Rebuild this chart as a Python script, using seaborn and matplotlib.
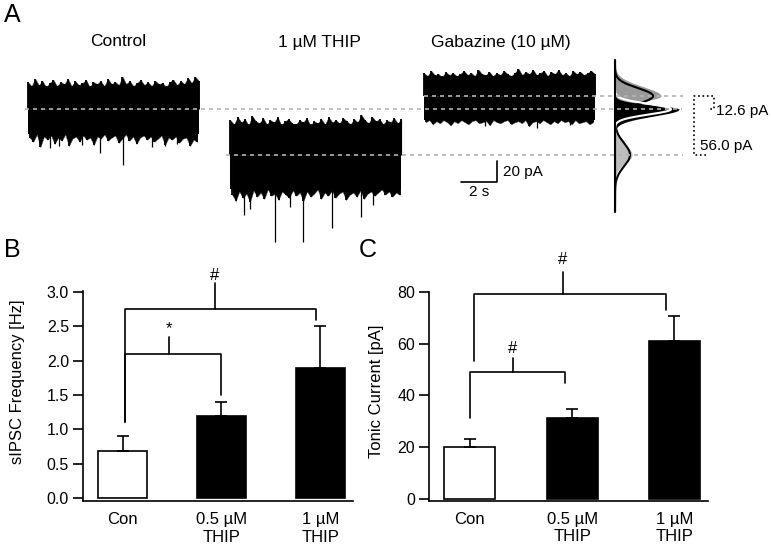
import numpy as np
import pandas as pd
import matplotlib
matplotlib.use("Agg")
import matplotlib.pyplot as plt
import seaborn as sns

# ---- données ----
categories = ["Con", "0.5 µM\nTHIP", "1 µM\nTHIP"]
freq_mean = [0.69, 1.19, 1.89]
freq_sem = [0.21, 0.21, 0.61]
tonic_mean = [20.0, 31.3, 61.0]
tonic_sem = [3.2, 3.4, 9.7]
bar_colors = ["white", "black", "black"]

# comparaisons : (x gauche, x droite, hauteur, bas jambe gauche, bas jambe droite, x repère, haut repère, symbole, y symbole)
freq_brackets = [
    (0.02, 1.96, 2.76, 1.10, 2.59, 0.93, 3.13, "#", 3.24),
    (0.02, 1.00, 2.10, 1.10, 1.50, 0.47, 2.34, "*", 2.47),
]
tonic_brackets = [
    (0.04, 1.92, 79.2, 53.3, 73.0, 0.91, 87.7, "#", 92.5),
    (0.00, 0.93, 49.0, 31.3, 45.0, 0.42, 54.4, "#", 58.3),
]

# traces (pA, relatif à la ligne de base)
trace_names = ["Control", "1 µM THIP", "Gabazine (10 µM)"]
trace_base = [-12.6, -56.0, 0.0]
trace_body_up = [22, 29, 19]
trace_body_dn = [-24, -33, -23]
ctrl_up = [26, 22, 29, 23, 27, 21, 25, 28, 22, 26, 24, 29, 22, 27, 23, 25, 28, 21, 26, 24, 27, 22, 29, 24,
           26, 23, 31, 24, 27, 22, 25, 28, 23, 26, 22, 27, 24, 25, 21, 26, 28, 23, 27, 24, 30, 25, 31, 27]
ctrl_dn = [-27, -31, -24, -36, -26, -29, -25, -33, -27, -30, -24, -35, -28, -26, -31, -25, -29, -27, -34, -26,
           -28, -24, -30, -27, -25, -32, -28, -24, -30, -26, -33, -27, -25, -29, -26, -31, -28, -25, -34, -27,
           -29, -26, -32, -28, -27, -35, -29, -31]
thip_up = [33, 29, 36, 31, 34, 28, 37, 32, 30, 35, 29, 33, 31, 36, 28, 32, 34, 30, 29, 33, 31, 35, 28, 32,
           30, 34, 29, 36, 31, 33, 30, 35, 32, 29, 34, 31, 38, 33, 30, 36, 32, 34, 29, 33, 31, 35, 30, 34]
thip_dn = [-38, -44, -35, -41, -37, -45, -34, -40, -36, -42, -33, -39, -37, -43, -35, -38, -41, -34, -39, -36,
           -44, -35, -40, -37, -33, -42, -36, -39, -34, -41, -37, -35, -43, -38, -36, -40, -34, -42, -37, -35,
           -39, -36, -33, -38, -35, -40, -36, -38]
gbz_up = [22, 19, 24, 20, 21, 18, 23, 20, 22, 19, 21, 24, 20, 22, 19, 25, 21, 20, 23, 19, 22, 20, 24, 21,
          19, 22, 26, 20, 23, 21, 25, 20, 22, 24, 19, 23, 21, 25, 20, 22, 19, 24, 21, 23, 20, 22, 24, 21]
gbz_dn = [-25, -23, -27, -24, -26, -23, -25, -28, -24, -26, -23, -25, -27, -24, -23, -26, -25, -24, -28, -23,
          -25, -26, -24, -23, -27, -25, -24, -26, -23, -29, -25, -24, -26, -23, -25, -27, -24, -26, -23, -25,
          -24, -27, -23, -26, -25, -24, -27, -25]
ctrl_spike_t = [1.2, 1.7, 3.0, 4.0, 5.3, 6.9, 7.6, 8.3]
ctrl_spike_a = [-37, -35, -34, -42, -53, -36, -35, -33]
thip_spike_t = [0.78, 1.1, 2.5, 3.3, 4.06, 5.67, 7.28, 7.9]
thip_spike_a = [-57, -52, -83, -50, -83, -70, -59, -48]
gbz_spike_t = [3.4, 6.3, 8.1]
gbz_spike_a = [-29, -30, -28]

# histogrammes tous-points : centre (pA), sigma haut, sigma bas, hauteur
hist_center = [0.0, -56.0, -12.6]
hist_sig_up = [9.0, 10.0, 4.0]
hist_sig_dn = [5.0, 8.0, 6.5]
hist_peak = [46, 17, 64]
hist_colors = ["#9a9a9a", "#bdbdbd", "black"]
fit_center = [0.0, -56.0, -12.6]
fit_sigma = [7.5, 11.0, 5.0]
fit_peak = [38, 15, 56]
fit_colors = ["black", "black", "white"]

W, H = 771, 549


def px_rect(l, t, r, b):
    return [l / W, 1 - b / H, (r - l) / W, (b - t) / H]


sns.set_theme(style="ticks")
plt.rcParams["font.family"] = ["Liberation Sans", "DejaVu Sans"]
plt.rcParams.update({"axes.linewidth": 1.2, "text.color": "black", "axes.labelcolor": "black",
                     "axes.edgecolor": "black", "xtick.color": "black", "ytick.color": "black"})

fig = plt.figure(figsize=(W / 100, H / 100), dpi=100)

# ---- A : traces ----
ylim_a = ((96 - 250) / 1.05, (96 - 50) / 1.05)
axh = fig.add_axes(px_rect(615, 50, 700, 250))
axh.set_xlim(0, 85)
axh.set_ylim(*ylim_a)
axh.axis("off")
yy = np.linspace(-110, 34, 400)
for c, su, sd, pk, col in zip(hist_center, hist_sig_up, hist_sig_dn, hist_peak, hist_colors):
    sig = np.where(yy >= c, su, sd)
    axh.fill_betweenx(yy, 0, pk * np.exp(-0.5 * ((yy - c) / sig) ** 2), color=col, lw=0)
for c, s, pk, col in zip(fit_center, fit_sigma, fit_peak, fit_colors):
    axh.plot(pk * np.exp(-0.5 * ((yy - c) / s) ** 2), yy, color=col, lw=1.5)
axh.plot([0, 0], [34.3, -110.5], color="black", lw=1.5, clip_on=False)

axa = fig.add_axes(px_rect(0, 50, 771, 250))
axa.set_zorder(2)
axa.patch.set_visible(False)
axa.set_xlim(0, W / 18)
axa.set_ylim(*ylim_a)
axa.axis("off")

starts = [1.55, 12.8, 23.55]
dur = 9.5
envs = [(ctrl_up, ctrl_dn), (thip_up, thip_dn), (gbz_up, gbz_dn)]
spikes = [(ctrl_spike_t, ctrl_spike_a), (thip_spike_t, thip_spike_a), (gbz_spike_t, gbz_spike_a)]
for st, base, bu, bd, (up, dn), (sp_t, sp_a) in zip(starts, trace_base, trace_body_up, trace_body_dn,
                                                     envs, spikes):
    axa.fill_between([st, st + dur], base + bd, base + bu, color="black", lw=0)
    t = st + np.linspace(0, dur, len(up))
    axa.fill_between(t, base, base + np.array(up), color="black", lw=0.3, edgecolor="#444444")
    axa.vlines(t, base, base + np.array(up), color="black", lw=1.3)
    t = st + np.linspace(0.1, dur - 0.1, len(dn))
    axa.fill_between(t, base, base + np.array(dn), color="black", lw=0.3, edgecolor="#444444")
    axa.vlines(t, base, base + np.array(dn), color="black", lw=1.3)
    axa.vlines(st + np.array(sp_t), base, base + np.array(sp_a), color="black", lw=0.9)

dash = (0, (2.4, 2.4))
axa.hlines(trace_base[0], 1.4, 37.9, colors="#b4b4b4", linestyles=dash, lw=1.2)
axa.hlines(trace_base[1], 12.55, 37.95, colors="#b4b4b4", linestyles=dash, lw=1.2)
axa.hlines(trace_base[2], 23.55, 37.95, colors="#b4b4b4", linestyles=dash, lw=1.2)

# mesures pointillées
axa.plot([39.2, 38.55, 38.55, 39.67, 39.67, 39.33],
         [trace_base[1], trace_base[1], trace_base[2], trace_base[2], trace_base[0], trace_base[0]],
         color="black", ls=":", lw=1.2)
axa.text(39.8, -14.3, f"{trace_base[2] - trace_base[0]:.1f} pA", fontsize=11, va="center", ha="left")
axa.text(38.9, -47.6, f"{trace_base[2] - trace_base[1]:.1f} pA", fontsize=11, va="center", ha="left")

# barre d'échelle
axa.plot([25.6, 27.6, 27.6], [-82, -82, -62], color="black", lw=1.2)
axa.text(27.95, -72, "20 pA", fontsize=11, va="center", ha="left")
axa.text(26.6, -91, "2 s", fontsize=11, va="center", ha="center")

for x, name in zip([118, 319, 501], trace_names):
    fig.text(x / W, 1 - 42 / H, name, fontsize=12.5, ha="center", va="center")

fig.text(4 / W, 1 - 15 / H, "A", fontsize=18, ha="left", va="center")
fig.text(4 / W, 1 - 250 / H, "B", fontsize=18, ha="left", va="center")
fig.text(359 / W, 1 - 250 / H, "C", fontsize=18, ha="left", va="center")


# ---- B et C : histogrammes ----
def bar_panel(ax, means, sems, brackets, ylab, ylim, yticks, yticklabels, lab_xy):
    df = pd.DataFrame({"cond": categories, "val": means})
    sns.barplot(data=df, x="cond", y="val", hue="cond", palette=bar_colors, legend=False,
                edgecolor="black", linewidth=1.2, width=0.5, ax=ax)
    ax.errorbar(range(len(means)), means, yerr=[np.zeros(len(sems)), sems], fmt="none",
                ecolor="black", elinewidth=1.2, capsize=4.5, capthick=1.2)
    for x0, x1, y, l0, l1, xt, yt, sym, ys in brackets:
        ax.plot([x0, x0, x1, x1], [l0, y, y, l1], color="black", lw=1.2, clip_on=False)
        ax.plot([xt, xt], [y, yt], color="black", lw=1.2, clip_on=False)
        ax.text(xt, ys, sym, fontsize=12, ha="center", va="center", clip_on=False)
    ax.set_xlim(-0.4, 2.33)
    ax.set_ylim(*ylim)
    ax.set_yticks(yticks)
    ax.set_yticklabels(yticklabels)
    ax.set_xlabel("")
    ax.set_ylabel(ylab, fontsize=12)
    ax.yaxis.set_label_coords(*lab_xy)
    ax.tick_params(axis="x", length=0, pad=8, labelsize=12)
    ax.tick_params(axis="y", length=7, width=1.2, pad=3, labelsize=11.5, direction="out")
    sns.despine(ax=ax)


axb = fig.add_axes(px_rect(83, 291, 353, 501))
bar_panel(axb, freq_mean, freq_sem, freq_brackets, "sIPSC Frequency [Hz]", (-0.044, 3.015),
          np.arange(0, 3.01, 0.5), [f"{v:.1f}" for v in np.arange(0, 3.01, 0.5)], (-0.215, 0.567))

axc = fig.add_axes(px_rect(429, 291.5, 708, 500.5))
bar_panel(axc, tonic_mean, tonic_sem, tonic_brackets, "Tonic Current [pA]", (-0.58, 80.19),
          [0, 20, 40, 60, 80], ["0", "20", "40", "60", "80"], (-0.161, 0.524))

fig.savefig("out.png", dpi=100)
